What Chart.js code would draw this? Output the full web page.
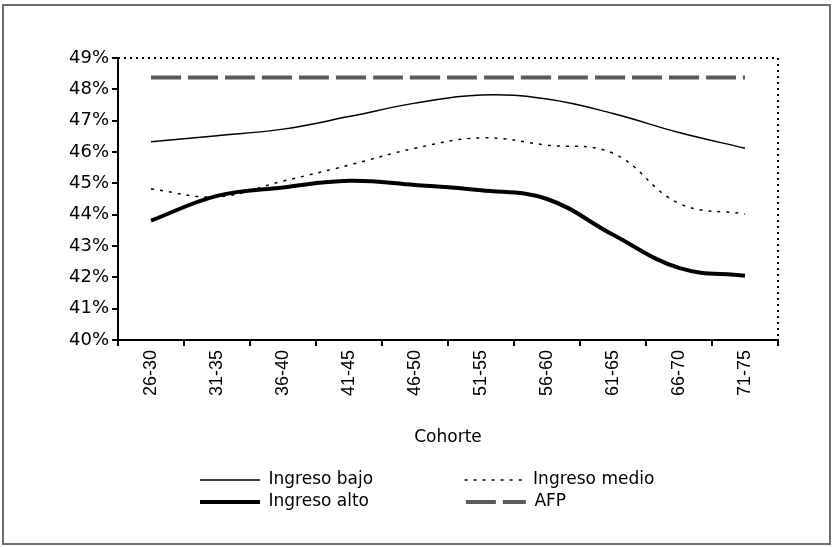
<!DOCTYPE html>
<html>
<head>
<meta charset="utf-8">
<script src="https://cdn.jsdelivr.net/npm/chart.js@4"></script>
<style>
  html, body { margin: 0; padding: 0; background: #fff; }
  #wrap { width: 833px; height: 547px; }
</style>
</head>
<body>
<div id="wrap"><canvas id="cohorte-chart"></canvas></div>
<script>
// cohortes (eje x)
var cohortes = ['26-30', '31-35', '36-40', '41-45', '46-50', '51-55', '56-60', '61-65', '66-70', '71-75'];

// valores en %
var ingresoBajo  = [46.33, 46.52, 46.73, 47.13, 47.56, 47.82, 47.69, 47.23, 46.62, 46.12];
var ingresoMedio = [44.82, 44.57, 45.07, 45.58, 46.12, 46.45, 46.22, 45.96, 44.36, 44.02];
var ingresoAlto  = [43.81, 44.60, 44.87, 45.08, 44.95, 44.78, 44.50, 43.36, 42.30, 42.05];
var afp          = [48.38, 48.38, 48.38, 48.38, 48.38, 48.38, 48.38, 48.38, 48.38, 48.38];

var pctTicks = [40, 41, 42, 43, 44, 45, 46, 47, 48, 49];

var legendFont = { family: '"DejaVu Sans"', size: 17 };

// pad first-column legend texts so the second column lines up
var measure = document.createElement('canvas').getContext('2d');
function padLabel(text, px) {
  measure.font = legendFont.size + 'px ' + legendFont.family;
  while (measure.measureText(text + ' ').width <= px) text += ' ';
  return text;
}

var frame = {
  id: 'frame',
  beforeDraw: function(chart) {
    var c = chart.ctx;
    c.save();
    c.strokeStyle = '#6e6e6e';
    c.lineWidth = 2;
    c.strokeRect(3, 5, 827, 539);
    c.restore();
  },
  // dotted top and right edges of the plot area
  beforeDatasetsDraw: function(chart) {
    var c = chart.ctx, a = chart.chartArea;
    c.save();
    c.strokeStyle = '#000';
    c.lineWidth = 2;
    c.setLineDash([2, 4]);
    c.beginPath();
    c.moveTo(a.left, a.top);
    c.lineTo(a.right, a.top);
    c.lineTo(a.right, a.bottom);
    c.stroke();
    c.restore();
  }
};

// move the legend block to the right, like the original
var legendShift = {
  id: 'legendShift',
  afterLayout: function(chart) {
    chart.legend.left = 195;
  }
};

var ctx = document.getElementById('cohorte-chart').getContext('2d');

var chart = new Chart(ctx, {
  type: 'line',
  data: {
    labels: cohortes,
    datasets: [{
      label: 'Ingreso bajo',
      data: ingresoBajo,
      borderColor: '#000',
      backgroundColor: '#000',
      borderWidth: 1.5
    }, {
      label: 'Ingreso medio',
      data: ingresoMedio,
      borderColor: '#000',
      backgroundColor: '#000',
      borderWidth: 1.5,
      borderDash: [3, 6]
    }, {
      label: 'Ingreso alto',
      data: ingresoAlto,
      borderColor: '#000',
      backgroundColor: '#000',
      borderWidth: 4
    }, {
      label: 'AFP',
      data: afp,
      borderColor: '#5a5a5a',
      backgroundColor: '#5a5a5a',
      borderWidth: 4,
      borderDash: [30, 7]
    }]
  },
  options: {
    responsive: true,
    maintainAspectRatio: false,
    animation: false,
    layout: { padding: { left: 63, right: 55, top: 58, bottom: 26.5 } },
    elements: {
      point: { radius: 0, hoverRadius: 0 },
      line: { tension: 0.4, fill: false, borderCapStyle: 'butt' }
    },
    scales: {
      x: {
        type: 'category',
        offset: true,
        grid: { offset: true, drawOnChartArea: false, color: '#000', lineWidth: 2, tickLength: 6 },
        border: { color: '#000', width: 2 },
        ticks: {
          color: '#000',
          font: { family: '"Liberation Sans", Arial', size: 18 },
          minRotation: 90,
          maxRotation: 90,
          autoSkip: false,
          padding: 4
        },
        title: {
          display: true,
          text: 'Cohorte',
          color: '#000',
          font: { family: '"DejaVu Sans"', size: 17 },
          padding: { top: 0, bottom: 19 }
        },
        afterFit: function(s) { s.height = 126.5; }
      },
      y: {
        min: pctTicks[0],
        max: pctTicks[pctTicks.length - 1],
        afterBuildTicks: function(s) {
          s.ticks = pctTicks.map(function(v) { return { value: v }; });
        },
        ticks: {
          color: '#000',
          font: { family: '"DejaVu Sans"', size: 18 },
          padding: 3,
          callback: function(v) { return v + '%'; }
        },
        grid: { drawOnChartArea: false, color: '#000', lineWidth: 2, tickLength: 6 },
        border: { color: '#000', width: 2 },
        afterFit: function(s) { s.width = 55; }
      }
    },
    plugins: {
      tooltip: { enabled: false },
      legend: {
        position: 'bottom',
        align: 'start',
        labels: {
          usePointStyle: true,
          pointStyle: 'line',
          pointStyleWidth: 60,
          padding: 5,
          color: '#000',
          font: legendFont,
          generateLabels: function(chart) {
            var items = Chart.defaults.plugins.legend.labels.generateLabels(chart);
            items.forEach(function(it, i) {
              var ds = chart.data.datasets[i];
              it.lineDash = ds.borderDash || [];
              it.lineWidth = ds.borderWidth;
              it.strokeStyle = ds.borderColor;
            });
            items[0].text = padLabel(items[0].text, 194);
            items[2].text = padLabel(items[2].text, 194);
            return items;
          }
        }
      }
    }
  },
  plugins: [frame, legendShift]
});
</script>
</body>
</html>
